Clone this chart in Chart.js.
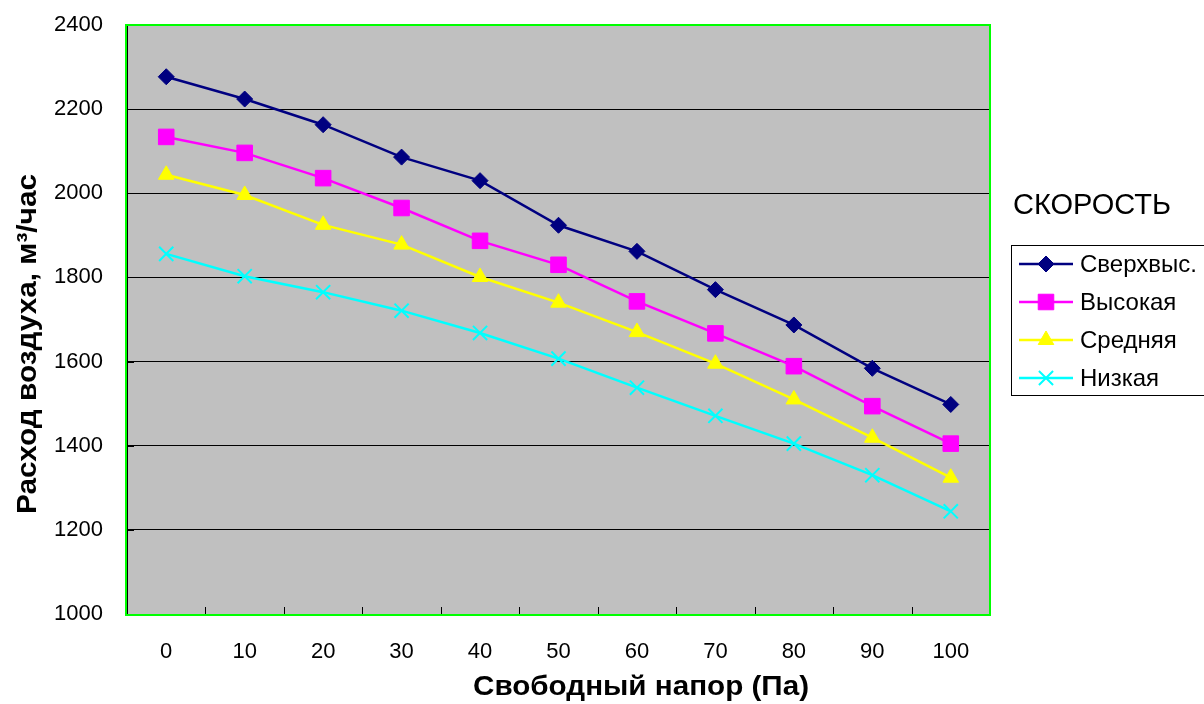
<!DOCTYPE html>
<html>
<head>
<meta charset="utf-8">
<script src="https://cdn.jsdelivr.net/npm/chart.js@4.4.0/dist/chart.umd.min.js"></script>
<style>
  html, body { margin: 0; padding: 0; background: #fff; }
  #wrap { width: 1204px; height: 704px; }
  canvas { display: block; }
</style>
</head>
<body>
<div id="wrap"><canvas id="chart" width="1204" height="704"></canvas></div>
<script>
// Free pressure, Pa (category axis)
const pressures = ['0', '10', '20', '30', '40', '50', '60', '70', '80', '90', '100'];

// Air flow, m³/h, per fan speed
const flowSuperHigh = [2277, 2224, 2163, 2086, 2030, 1924, 1862, 1771, 1687, 1584, 1498];
const flowHigh      = [2134, 2096, 2036, 1965, 1887, 1830, 1743, 1667, 1589, 1494, 1405];
const flowMedium    = [2044, 1996, 1925, 1878, 1801, 1740, 1670, 1595, 1510, 1419, 1324];
const flowLow       = [1856, 1803, 1765, 1721, 1668, 1607, 1538, 1471, 1405, 1330, 1244];

const speedNames = ['Сверхвыс.', 'Высокая', 'Средняя', 'Низкая'];
const yMin = 1000, yMax = 2400, yStep = 200;

const FONT = "'Liberation Sans', Arial, sans-serif";

const styles = [
  { color: '#000080', pointStyle: 'rectRot',  radius: 8,  pbw: 1 },
  { color: '#FF00FF', pointStyle: 'rect',     radius: 11, pbw: 1 },
  { color: '#FFFF00', pointStyle: 'triangle', radius: 9,  pbw: 1 },
  { color: '#00FFFF', pointStyle: 'crossRot', radius: 10, pbw: 2 }
];
const seriesData = [flowSuperHigh, flowHigh, flowMedium, flowLow];

const datasets = seriesData.map((d, i) => ({
  label: speedNames[i],
  data: d,
  borderColor: styles[i].color,
  backgroundColor: styles[i].color,
  borderWidth: 2.5,
  pointStyle: styles[i].pointStyle,
  pointRadius: styles[i].radius,
  pointBorderWidth: styles[i].pbw,
  pointBackgroundColor: styles[i].color,
  pointBorderColor: styles[i].color,
  tension: 0,
  fill: false
}));

function drawMarker(ctx, style, x, y) {
  ctx.fillStyle = style.color;
  ctx.strokeStyle = style.color;
  ctx.lineWidth = style.pbw;
  Chart.helpers.drawPoint(ctx, {
    pointStyle: style.pointStyle,
    radius: style.radius,
    borderWidth: style.pbw,
    rotation: 0
  }, x, y);
}

// centred text, widened horizontally to the given width
function wideText(ctx, text, x, y, width) {
  const w = ctx.measureText(text).width;
  const k = Math.max(1, width / w);
  ctx.save();
  ctx.translate(x, y);
  ctx.scale(k, 1);
  ctx.fillText(text, 0, 0);
  ctx.restore();
}

const framePlugin = {
  id: 'frame',
  beforeDraw(chart) {
    const { ctx, chartArea: a } = chart;
    ctx.save();
    ctx.fillStyle = '#C0C0C0';
    ctx.fillRect(a.left, a.top, a.right - a.left, a.bottom - a.top);
    ctx.restore();
  },
  afterDraw(chart) {
    const { ctx, chartArea: a } = chart;
    const xs = chart.scales.x, ys = chart.scales.y;
    ctx.save();

    // inward tick marks on both axes
    ctx.strokeStyle = '#000';
    ctx.lineWidth = 1;
    const step = xs.getPixelForValue(1) - xs.getPixelForValue(0);
    for (let i = 0; i <= pressures.length; i++) {
      const x = Math.round(xs.getPixelForValue(0) - step / 2 + i * step) + 0.5;
      ctx.beginPath();
      ctx.moveTo(x, a.bottom);
      ctx.lineTo(x, a.bottom - 7);
      ctx.stroke();
    }
    ys.ticks.forEach(t => {
      const y = Math.round(ys.getPixelForValue(t.value)) + 0.5;
      ctx.beginPath();
      ctx.moveTo(a.left, y);
      ctx.lineTo(a.left + 7, y);
      ctx.stroke();
    });

    // green plot frame
    ctx.strokeStyle = '#00FF00';
    ctx.lineWidth = 2;
    ctx.strokeRect(a.left - 1, a.top, a.right - a.left + 1, a.bottom - a.top + 1);

    // axis titles
    ctx.fillStyle = '#000';
    ctx.font = 'bold 27px ' + FONT;
    ctx.textAlign = 'center';
    ctx.textBaseline = 'middle';
    wideText(ctx, 'Свободный напор (Па)', 641, 688, 336);
    ctx.save();
    ctx.translate(29, 344);
    ctx.rotate(-Math.PI / 2);
    wideText(ctx, 'Расход воздуха, м³/час', 0, 0, 340);
    ctx.restore();

    // legend
    ctx.textAlign = 'left';
    ctx.font = '29px ' + FONT;
    ctx.fillText('СКОРОСТЬ', 1013, 206);
    ctx.strokeStyle = '#000';
    ctx.lineWidth = 1;
    ctx.strokeRect(1011.5, 245.5, 200, 150);
    ctx.font = '24px ' + FONT;
    chart.data.datasets.forEach((ds, i) => {
      const y = 264 + i * 38;
      const st = styles[i];
      ctx.strokeStyle = st.color;
      ctx.lineWidth = 2.5;
      ctx.beginPath();
      ctx.moveTo(1019, y);
      ctx.lineTo(1073, y);
      ctx.stroke();
      drawMarker(ctx, st, 1046, y);
      ctx.fillStyle = '#000';
      ctx.fillText(ds.label, 1080, y + 1);
    });
    ctx.restore();
  }
};

new Chart(document.getElementById('chart'), {
  type: 'line',
  data: { labels: pressures, datasets },
  options: {
    responsive: false,
    devicePixelRatio: 1,
    animation: false,
    events: [],
    layout: { padding: { left: 0, top: 25, right: 214, bottom: 0 } },
    plugins: { legend: { display: false }, tooltip: { enabled: false } },
    scales: {
      x: {
        type: 'category',
        offset: true,
        grid: { display: false, drawTicks: false },
        border: { display: true, color: '#000', width: 1 },
        ticks: { color: '#000', font: { family: FONT, size: 22 }, padding: 25, maxRotation: 0, autoSkip: false },
        afterFit(s) { s.height = 90; s.paddingLeft = 0; s.paddingRight = 0; }
      },
      y: {
        min: yMin, max: yMax,
        grid: { color: '#000', lineWidth: 1, drawTicks: false },
        border: { display: true, color: '#000', width: 1 },
        ticks: {
          stepSize: yStep, color: '#000', font: { family: FONT, size: 22 }, padding: 24,
          callback: v => String(v)
        },
        afterFit(s) { s.width = 127; s.paddingTop = 0; s.paddingBottom = 0; }
      }
    }
  },
  plugins: [framePlugin]
});
</script>
</body>
</html>
